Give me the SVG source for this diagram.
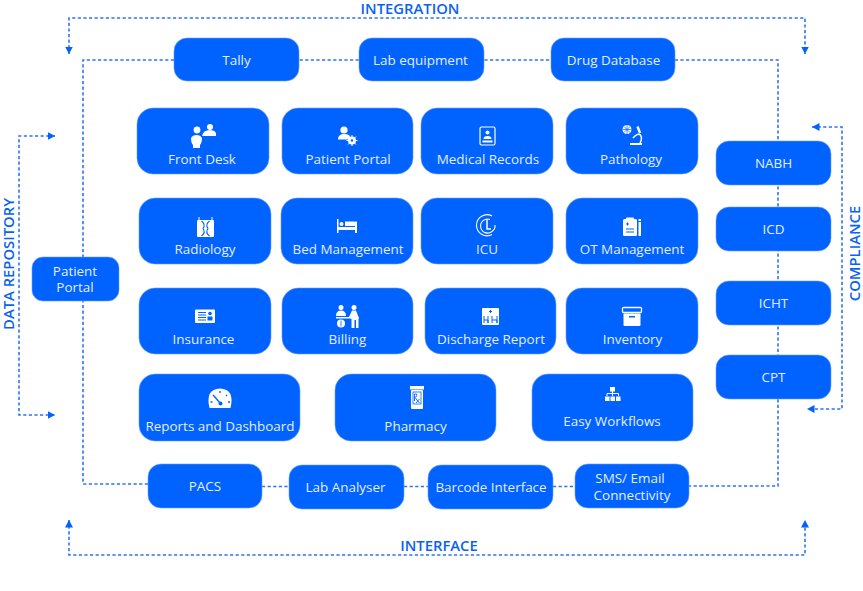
<svg xmlns="http://www.w3.org/2000/svg" width="863" height="591" viewBox="0 0 863 591">
<style>
text{font-family:"Open Sans","Noto Sans","Liberation Sans",sans-serif}
.n{fill:#0062ff;stroke:#6ba0fb;stroke-width:.6}
.t{fill:#e4eeff;font-size:13.450px;text-anchor:middle}
.h{fill:#0a62f2;font-size:14.800px;font-weight:600;text-anchor:middle}
.c{fill:none;stroke:#2f74ee;stroke-width:1.600;stroke-dasharray:3.200 2.400}
.i{fill:#fff}
.o{fill:none;stroke:#fff}
.b{fill:#0062ff}
.bs{fill:none;stroke:#0062ff}
</style>
<defs>
<marker id="a" markerWidth="8" markerHeight="8" refX="7.500" refY="4" orient="auto-start-reverse" markerUnits="userSpaceOnUse"><path d="M0 0L7.500 4L0 8Z" fill="#0062ff"/></marker>
</defs>
<g id="connectors">
<path class="c" d="M148 484H83V60H778V486H689"/>
<path class="c" d="M262 486.500H289M404 486.500H428M553 486.500H575"/>
<path class="c" marker-start="url(#a)" marker-end="url(#a)" d="M69 54V18H805V54"/>
<path class="c" marker-start="url(#a)" marker-end="url(#a)" d="M69 520V555H805V520"/>
<path class="c" marker-start="url(#a)" marker-end="url(#a)" d="M55 136H19V415H55"/>
<path class="c" marker-start="url(#a)" marker-end="url(#a)" d="M812 127H842V409H807"/>
</g>
<text class="h" x="410" y="13.500">INTEGRATION</text>
<text class="h" x="439" y="551">INTERFACE</text>
<text class="h" transform="translate(14 264) rotate(-90)">DATA REPOSITORY</text>
<text class="h" transform="translate(859.500 253.500) rotate(-90)">COMPLIANCE</text>

<g id="tally"><rect class="n" x="174" y="38" width="125" height="43" rx="13"/><text class="t" x="236.500" y="65">Tally</text></g>
<g id="lab-equipment"><rect class="n" x="359" y="38" width="125" height="43" rx="13"/><text class="t" x="420.500" y="65">Lab equipment</text></g>
<g id="drug-database"><rect class="n" x="551" y="38" width="124" height="43" rx="13"/><text class="t" x="613.500" y="65">Drug Database</text></g>

<g id="front-desk"><rect class="n" x="137" y="108" width="132" height="66" rx="16"/>
<circle class="i" cx="197" cy="130" r="3.400"/><path class="i" d="M191 138a6 5 0 0 1 11 0q0 5-2 7v3h-7v-3q-2-2-2-7Z"/><circle class="i" cx="210" cy="127" r="3"/><path class="i" d="M202 136q1-6 8-6t6 6Z"/>
<text class="t" x="202" y="164">Front Desk</text></g>

<g id="patient-portal"><rect class="n" x="282" y="108" width="131" height="66" rx="16"/>
<circle class="i" cx="344" cy="130" r="3.600"/><path class="i" d="M338 139.500q0-5.500 6-5.500t6 3l-2 2.500Z"/><circle class="i" cx="352" cy="140.500" r="4"/><path class="o" stroke-width="1" d="M352 135V146M346.500 140.500H357.500M348 136.500L356 144.500M356 136.500L348 144.500"/><circle class="b" cx="352" cy="140.500" r="1.200"/>
<text class="t" x="348" y="164">Patient Portal</text></g>

<g id="medical-records"><rect class="n" x="421" y="108" width="132" height="66" rx="16"/>
<rect x="480" y="127" width="15" height="18" rx="1.500" fill="none" stroke="#fff" stroke-width="1.200"/><circle class="i" cx="487.500" cy="132.500" r="2"/><path class="i" d="M483.500 139q0-3 4-3t4 3Z"/><rect class="i" x="482.500" y="140.500" width="10" height="2"/>
<text class="t" x="488" y="164">Medical Records</text></g>

<g id="pathology"><rect class="n" x="566" y="108" width="132" height="66" rx="16"/>
<circle class="i" cx="627" cy="129.500" r="4.500"/><path class="bs" stroke-width=".7" d="M627 125V134M622.500 129.500H631.500M624 126.500L630 132.500M630 126.500L624 132.500"/>
<path class="o" stroke-width="2.400" d="M637.500 126.500L640 133"/>
<path class="o" stroke-width="1.500" d="M633 138Q637 133.500 640 134.500Q643 138 640 143"/>
<path class="i" d="M630 143H642V145H630Z"/>
<text class="t" x="631" y="164">Pathology</text></g>

<g id="radiology"><rect class="n" x="139" y="198" width="132" height="66" rx="16"/>
<rect class="i" x="197" y="220" width="17" height="17" rx="1"/><path class="o" stroke-width="1" d="M199 217V222M212 217V222"/><path class="bs" stroke-width="1.100" d="M201.500 221Q206 224.500 203 228.500Q206 232.500 201.500 236M209.500 221Q205 224.500 208 228.500Q205 232.500 209.500 236"/>
<text class="t" x="205" y="254">Radiology</text></g>

<g id="bed-management"><rect class="n" x="281" y="198" width="132" height="66" rx="16"/>
<path class="i" d="M337 219H338.500V227H355V222Q355 221.500 354 221.500H345V226H355V221.500H357V233H355V230H338.500V233H337Z"/><circle class="i" cx="341.500" cy="224" r="2"/>
<text class="t" x="348" y="254">Bed Management</text></g>

<g id="icu"><rect class="n" x="421" y="198" width="132" height="66" rx="16"/>
<path class="o" stroke-width="1.100" d="M492 216A10.500 10.500 0 1 0 492 234.500"/><path class="o" stroke-width="1.100" d="M490 219.500A7 7 0 1 0 492 231.500A7 7 0 0 0 495 225"/>
<path class="o" stroke-width="1.500" d="M487 219.500V229H491"/>
<text class="t" x="487" y="254">ICU</text></g>

<g id="ot-management"><rect class="n" x="566" y="198" width="132" height="66" rx="16"/>
<rect class="i" x="623" y="219" width="14" height="17" rx="1.500"/><rect class="i" x="626" y="217.500" width="8" height="3" rx="1"/><path class="bs" stroke-width="1" d="M626 224H629M627.500 222.500V225.500M626 229H634M626 232H634"/><rect class="i" x="638.500" y="222" width="2.500" height="14"/><rect class="i" x="638.500" y="219" width="2.500" height="2"/>
<text class="t" x="632" y="254">OT Management</text></g>

<g id="insurance"><rect class="n" x="139" y="288" width="132" height="66" rx="16"/>
<rect class="i" x="195" y="309.500" width="20" height="13.500" rx="1"/><path class="bs" stroke-width="1" d="M198 312.500H206M198 315H206M198 317.500H206M198 320H206"/><circle class="b" cx="210" cy="313.500" r="1.800"/><rect class="b" x="207.500" y="316.500" width="5" height="4"/>
<text class="t" x="203.500" y="344">Insurance</text></g>

<g id="billing"><rect class="n" x="282" y="288" width="131" height="66" rx="16"/>
<circle class="i" cx="341" cy="307.500" r="2.500"/><path class="i" d="M336 316q0-5.500 5-5.500t5 5.500Z"/><rect class="i" x="336" y="317" width="23" height="1.500"/><circle class="i" cx="341" cy="323.500" r="4"/><circle class="i" cx="354" cy="307.500" r="2.500"/><path class="i" d="M349 317L352 310.500H356L358.500 317V328H356V320H354.500V328H351.500V319Z"/><path class="bs" stroke-width=".8" d="M341 320.500V326.500"/>
<text class="t" x="347.500" y="344">Billing</text></g>

<g id="discharge-report"><rect class="n" x="425" y="288" width="131" height="66" rx="16"/>
<rect class="i" x="482" y="308" width="17" height="17" rx="1"/><path class="bs" stroke-width="1" d="M484 323V316M484 320H488V323M488 316V323M492 323V316M492 320H497V323M497 316V323M490.500 310V313M489 311.500H492"/>
<text class="t" x="491" y="344">Discharge Report</text></g>

<g id="inventory"><rect class="n" x="566" y="288" width="132" height="66" rx="16"/>
<rect x="622.500" y="307.500" width="19" height="5" rx="1" fill="none" stroke="#fff" stroke-width="1.300"/><path class="i" d="M623.500 313.500H640.500V325Q640.500 326 639.500 326H624.500Q623.500 326 623.500 325Z"/><rect class="b" x="629" y="316" width="6" height="1.500"/>
<text class="t" x="632.500" y="344">Inventory</text></g>

<g id="reports-dashboard"><rect class="n" x="139" y="374" width="161" height="67" rx="16"/>
<path class="i" d="M209.500 408Q205 389 220 388.500Q235 389 230.500 408Z"/><path class="bs" stroke-width="1.300" d="M214 396L220 403M210.500 402H212.500M228 402H230M220 391V393M227 395L226 396M213 395L214 396"/><circle class="b" cx="220.500" cy="403.500" r="2"/>
<text class="t" x="220" y="431">Reports and Dashboard</text></g>

<g id="pharmacy"><rect class="n" x="335" y="374" width="161" height="67" rx="16"/>
<rect class="i" x="410" y="386" width="14" height="3.500"/><rect class="i" x="411" y="390" width="12" height="19" rx="1"/><rect x="413" y="392" width="8" height="12" fill="none" stroke="#0062ff" stroke-width=".8"/><path class="bs" stroke-width=".9" d="M414.500 401V394H416.500Q418 396 415 397.500L419.500 403M419.500 399L416 403"/>
<text class="t" x="415.500" y="431">Pharmacy</text></g>

<g id="easy-workflows"><rect class="n" x="532" y="374" width="161" height="67" rx="16"/>
<rect class="i" x="610" y="387" width="5" height="4.500"/><rect class="i" x="605" y="396.500" width="4.500" height="4.500"/><rect class="i" x="610.500" y="396.500" width="4.500" height="4.500"/><rect class="i" x="616" y="396.500" width="4.500" height="4.500"/><path class="o" stroke-width="1" d="M612.500 391V396M607 396V393.500H618.500V396"/>
<text class="t" x="612" y="426">Easy Workflows</text></g>

<g id="pacs"><rect class="n" x="148" y="464" width="114" height="44" rx="13"/><text class="t" x="205" y="491">PACS</text></g>
<g id="lab-analyser"><rect class="n" x="289" y="465" width="115" height="44" rx="13"/><text class="t" x="345.500" y="492">Lab Analyser</text></g>
<g id="barcode-interface"><rect class="n" x="428" y="465" width="125" height="44" rx="13"/><text class="t" x="491" y="492">Barcode Interface</text></g>
<g id="sms-email"><rect class="n" x="575" y="464" width="114" height="44" rx="13"/><text class="t" x="630" y="483">SMS/ Email</text><text class="t" x="632" y="500">Connectivity</text></g>

<g id="nabh"><rect class="n" x="716" y="141" width="115" height="44" rx="13"/><text class="t" x="773.500" y="168">NABH</text></g>
<g id="icd"><rect class="n" x="716" y="207" width="115" height="44" rx="13"/><text class="t" x="773.500" y="234">ICD</text></g>
<g id="icht"><rect class="n" x="716" y="281" width="115" height="44" rx="13"/><text class="t" x="773.500" y="308">ICHT</text></g>
<g id="cpt"><rect class="n" x="716" y="355" width="115" height="44" rx="13"/><text class="t" x="773.500" y="382">CPT</text></g>

<g id="patient-portal-left"><rect class="n" x="32" y="257" width="87" height="44" rx="11"/><text class="t" x="75" y="276">Patient</text><text class="t" x="75" y="292">Portal</text></g>
</svg>
